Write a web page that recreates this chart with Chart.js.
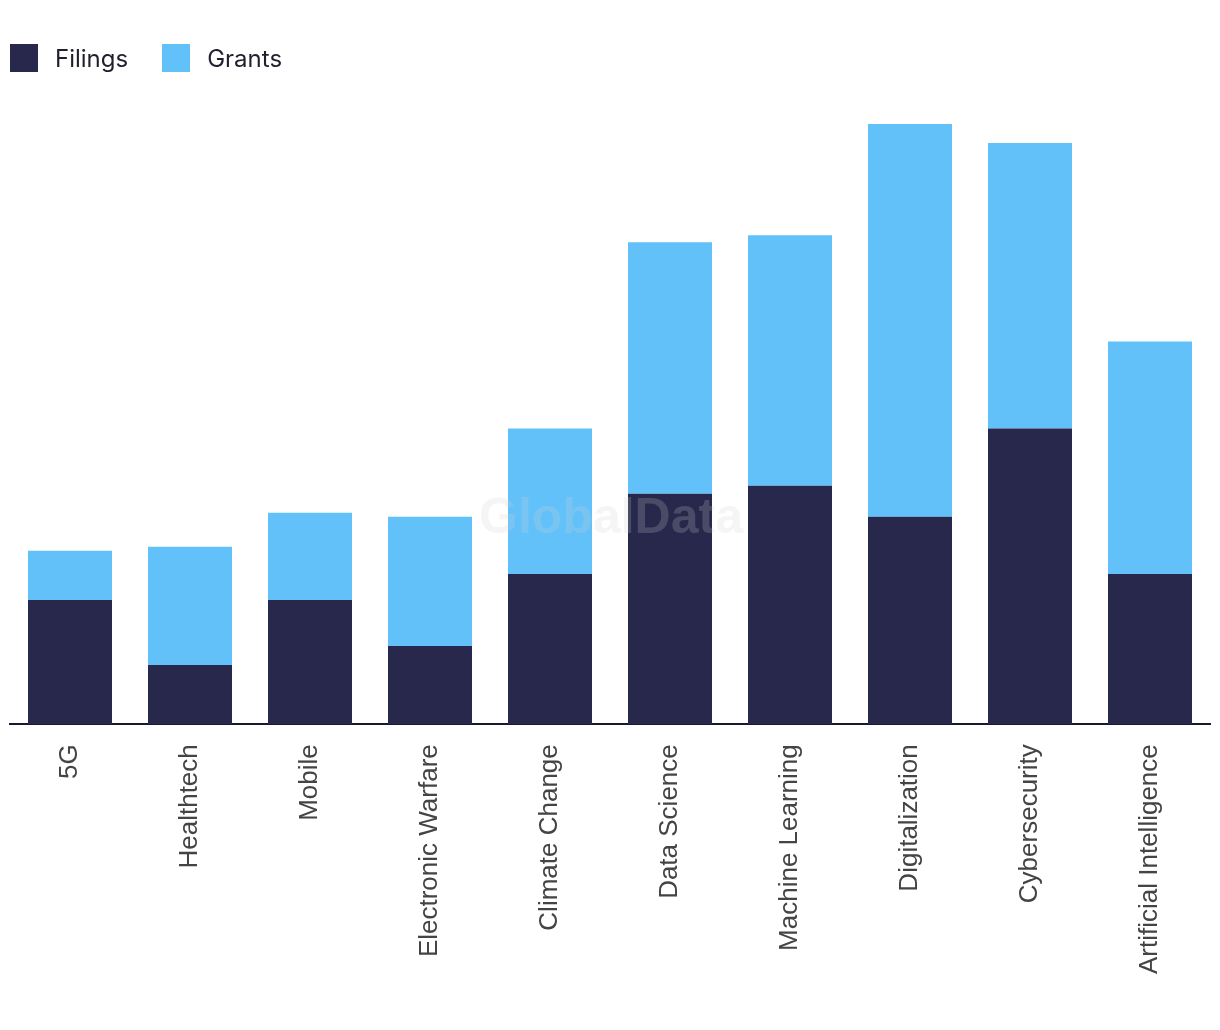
<!DOCTYPE html>
<html>
<head>
<meta charset="utf-8">
<script src="https://cdn.jsdelivr.net/npm/chart.js@4"></script>
<style>
  html, body { margin: 0; padding: 0; background: #fff; }
  #wrap { width: 1220px; height: 1030px; position: relative; }
  #legend { position: absolute; left: 10px; top: 44px; display: flex; font-family: Inter, 'Liberation Sans', sans-serif; font-size: 24px; color: #1f1f2e; }
  .item { display: flex; align-items: center; margin-right: 34px; height: 28px; }
  .box { width: 28px; height: 28px; margin-right: 17px; }
</style>
</head>
<body>
<div id="wrap"><canvas id="chart"></canvas><div id="legend"></div></div>
<script>
// Chart data
const categories = ["5G", "Healthtech", "Mobile", "Electronic Warfare", "Climate Change",
  "Data Science", "Machine Learning", "Digitalization", "Cybersecurity", "Artificial Intelligence"];
const filings = [124, 59, 124, 78, 150, 230, 238, 207, 295, 150];
const grants = [49, 118, 87, 129, 145, 251, 250, 392, 285, 232];
const colors = ["#27284c", "#62c1f9"];

// faint watermark in the middle of the plot
const watermark = {
  id: "watermark",
  afterDatasetsDraw(chart) {
    const { ctx } = chart;
    ctx.save();
    ctx.font = "bold 50px 'Liberation Sans', Arial, sans-serif";
    ctx.fillStyle = "rgba(207,207,207,0.21)";
    ctx.textAlign = "center";
    ctx.textBaseline = "alphabetic";
    ctx.fillText("GlobalData", 611, 533);
    ctx.restore();
  }
};

const chart = new Chart(document.getElementById("chart"), {
  type: "bar",
  data: {
    labels: categories,
    datasets: [
      { label: "Filings", data: filings, backgroundColor: colors[0] },
      { label: "Grants", data: grants, backgroundColor: colors[1] }
    ]
  },
  options: {
    responsive: true,
    maintainAspectRatio: false,
    animation: false,
    layout: { padding: { left: 10, right: 10, top: 123, bottom: 36 } },
    datasets: { bar: { barPercentage: 0.7, categoryPercentage: 1 } },
    plugins: {
      legend: { display: false },
      tooltip: { enabled: false }
    },
    scales: {
      x: {
        stacked: true,
        grid: { display: false, drawTicks: false },
        border: { display: true, color: "#1a1a2e", width: 2 },
        ticks: {
          minRotation: 90,
          maxRotation: 90,
          padding: 20,
          color: "#444",
          font: { family: "'Liberation Sans', Arial, sans-serif", size: 26 }
        }
      },
      y: {
        stacked: true,
        display: false,
        min: 0,
        max: 600
      }
    }
  },
  plugins: [watermark]
});

// simple html legend built from the datasets
const legend = document.getElementById("legend");
chart.data.datasets.forEach(ds => {
  const item = document.createElement("div");
  item.className = "item";
  item.innerHTML = `<span class="box" style="background:${ds.backgroundColor}"></span>${ds.label}`;
  legend.appendChild(item);
});
</script>
</body>
</html>
